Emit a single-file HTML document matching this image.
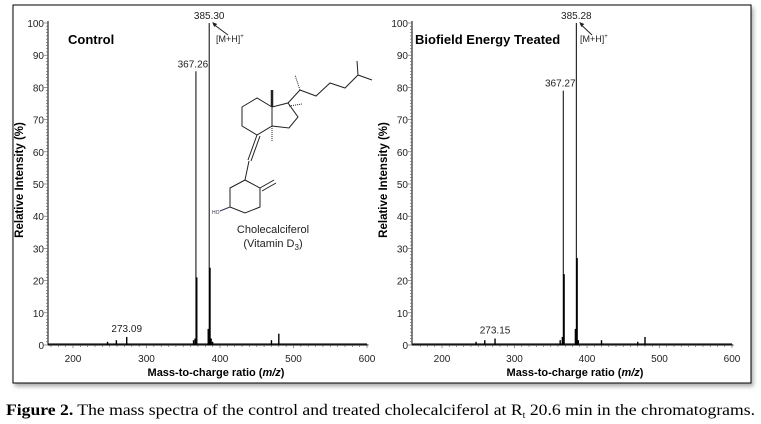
<!DOCTYPE html>
<html><head><meta charset="utf-8"><style>
body{margin:0;background:#fff;width:761px;height:424px;overflow:hidden}
svg{display:block}
text{font-family:"Liberation Sans",sans-serif}
</style></head><body>
<svg id="fig" width="761" height="424" xmlns="http://www.w3.org/2000/svg">
<defs><filter id="sh" x="-5%" y="-5%" width="110%" height="110%"><feDropShadow dx="2" dy="3" stdDeviation="2" flood-color="#888" flood-opacity="0.7"/></filter></defs>
<rect x="13" y="5" width="738" height="378" fill="#fff" stroke="#000" stroke-width="1" filter="url(#sh)"/>
<g id="p1"></g>
<g id="p2"></g>
<g stroke="#222" stroke-width="1" fill="none">
<polygon points="242,107 257,98 272,107 272,126 257,135 242,126"/>
<polyline points="272,107 288,103 298,117 289,128 272,126"/>
<line x1="272" y1="107" x2="272" y2="90" stroke-width="2.5"/>
<polyline points="288,103 300,90 316,96 330,83 345,88 358,75 372,80"/>
<line x1="358" y1="75" x2="357" y2="61"/>
<line x1="300" y1="90" x2="295" y2="75" stroke-dasharray="1,1"/>
<line x1="257" y1="135" x2="248" y2="160"/><line x1="260" y1="136" x2="251" y2="161"/>
<line x1="249" y1="161" x2="245" y2="180"/>
<polygon points="230,188 245,180 260,188 260,207 245,213 230,207"/>
<line x1="260" y1="188" x2="274" y2="180"/><line x1="262" y1="191" x2="276" y2="183"/>
<line x1="230" y1="207" x2="220" y2="211" stroke="#335"/>
<line x1="289" y1="106" x2="302" y2="104" stroke-dasharray="1,1"/>
<line x1="272" y1="126" x2="272" y2="142" stroke-dasharray="1,1"/>
</g>
<text x="212" y="214" font-size="5" fill="#335">HO</text>
<text x="273" y="233" font-size="11" text-anchor="middle" fill="#222">Cholecalciferol</text>
<text x="273" y="247" font-size="11" text-anchor="middle" fill="#222">(Vitamin D<tspan font-size="8" dy="3">3</tspan><tspan dy="-3">)</tspan></text>
<text x="6" y="415" font-size="15.5" textLength="749" lengthAdjust="spacingAndGlyphs" fill="#000" style="font-family:'Liberation Serif',serif"><tspan font-weight="bold">Figure 2.</tspan> The mass spectra of the control and treated cholecalciferol at R<tspan font-size="9" dy="3">t</tspan><tspan dy="-3"> 20.6 min in the chromatograms.</tspan></text>
</svg>
<script>
const xTicks=[200,300,400,500,600];
const yTicks=[0,10,20,30,40,50,60,70,80,90,100];
// control panel data
const controlMz=[367.26,385.30,368.4,386.4,273.09,259,247,366,384,480,470,364,388,390];
const controlInt=[85,100,21,24,2.5,1.5,1,2,5,3.5,1.5,1.5,2,1];
const controlLabels=["367.26","385.30","273.09"];
// treated panel data
const treatedMz=[367.27,385.28,368.4,386.4,273.15,259,247,366,384,480,420,363,388,470];
const treatedInt=[79,100,22,27,2,1.5,1,2.5,5,2.5,1.5,1.5,1.5,1];
const treatedLabels=["367.27","385.28","273.15"];
const NS="http://www.w3.org/2000/svg";
function mk(p,t,a){const e=document.createElementNS(NS,t);for(const k in a)e.setAttribute(k,a[k]);p.appendChild(e);return e;}
function panel(g,cfg,mz,inten,labels){
  const xs=v=>cfg.x200+(v-200)*cfg.kx;
  const ys=v=>345-(v)*3.22;
  const yax=mk(g,'line',{x1:cfg.ax,y1:ys(100)-2,x2:cfg.ax,y2:ys(0),stroke:'#000'});
  
  
  const xax=mk(g,'line',{x1:cfg.ax,y1:ys(0),x2:xs(602),y2:ys(0),stroke:'#000'});
  
  
  for(let v=0;v<=100;v+=1){const tl=mk(g,'line',{x1:cfg.ax-(v%10?2:4),y1:ys(v),x2:cfg.ax,y2:ys(v),stroke:'#555','stroke-width':0.6});
    }
  yTicks.forEach(v=>{const t=mk(g,'text',{x:cfg.ax-4,y:ys(v)+4,'font-size':10,'text-anchor':'end',fill:'#222'});t.textContent=v;
    });
  for(let v=170;v<=600;v+=10){const tl=mk(g,'line',{x1:xs(v),y1:ys(0),x2:xs(v),y2:ys(0)+(v%100?2:3),stroke:'#555','stroke-width':0.6});
    }
  xTicks.forEach(v=>{const t=mk(g,'text',{x:xs(v),y:ys(0)+17,'font-size':10,'text-anchor':'middle',fill:'#222'});t.textContent=v;
    });
  const nb=mk(g,'line',{x1:cfg.ax,y1:ys(0)-1,x2:xs(600),y2:ys(0)-1,stroke:'#222','stroke-width':1.3});
  
  mz.forEach((m,i)=>{const l=mk(g,'line',{x1:xs(m),y1:ys(0),x2:xs(m),y2:ys(inten[i]),stroke:'#000','stroke-width':i<2?1:1.4});
    });
  const lb=[[0,-4],[1,-4],[4,-5]];
  lb.forEach(([i,dy],j)=>{const t=mk(g,'text',{x:xs(mz[i])+(j==0?-3:0),y:ys(inten[i])+dy,'font-size':10,'text-anchor':'middle',fill:'#222'});t.textContent=labels[j];
    });
  const at=mk(g,'text',{x:cfg.mhx,y:42,'font-size':9,fill:'#222'});at.innerHTML='[M+H]<tspan font-size="6" dy="-4">+</tspan>';
  
  const ar=mk(g,'line',{x1:cfg.mhx+12,y1:35,x2:xs(mz[1])+4,y2:24,stroke:'#222'});
  
  mk(g,'polygon',{points:`${xs(mz[1])+3},22 ${xs(mz[1])+8},24 ${xs(mz[1])+5},27`,fill:'#222'});
  const ti=mk(g,'text',{x:cfg.tx,y:44,'font-size':13,'font-weight':'bold',fill:'#000'});ti.textContent=cfg.title;
  
  const xt=mk(g,'text',{x:cfg.xt,y:376,'font-size':11,'font-weight':'bold','text-anchor':'middle',fill:'#000'});xt.innerHTML='Mass-to-charge ratio (<tspan font-style="italic">m/z</tspan>)';
  
  const yt=mk(g,'text',{x:0,y:0,'font-size':11.5,'font-weight':'bold','text-anchor':'middle',fill:'#000',transform:`translate(${cfg.ax-25},180) rotate(-90)`});yt.textContent='Relative Intensity (%)';
  
}
panel(document.getElementById('p1'),{ax:48,x200:73,kx:0.735,title:'Control',tx:68,xt:216,mhx:216},controlMz,controlInt,controlLabels);
panel(document.getElementById('p2'),{ax:412,x200:442,kx:0.725,title:'Biofield  Energy  Treated',tx:415,xt:575,mhx:580},treatedMz,treatedInt,treatedLabels);
</script>
</body></html>
